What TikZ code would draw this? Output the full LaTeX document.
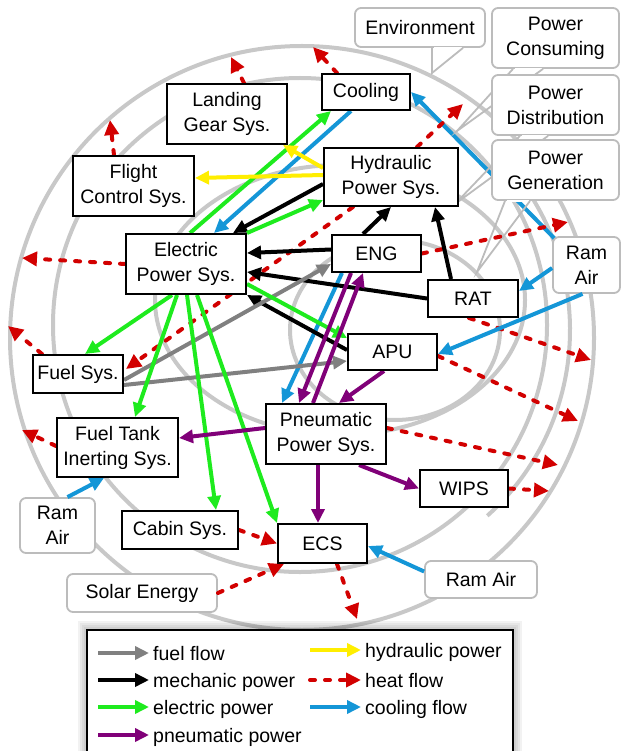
\documentclass[tikz,border=0pt]{standalone}
\usepackage{fontspec}
\setmainfont{Liberation Sans}
\usetikzlibrary{arrows.meta,calc}
\definecolor{cgreen}{RGB}{30,235,30}
\definecolor{cblue}{RGB}{20,150,215}
\definecolor{cpurple}{RGB}{128,0,120}
\definecolor{cyellow}{RGB}{255,238,0}
\definecolor{cred}{RGB}{210,0,0}
\definecolor{cgray}{RGB}{128,128,128}
\definecolor{cring}{RGB}{200,200,200}
\definecolor{cbox}{RGB}{188,188,188}
\newcommand{\diagfont}{\fontsize{19.5}{25}\selectfont}
\pgfdeclarelayer{ring}
\pgfdeclarelayer{lower}
\pgfdeclarelayer{call}
\pgfdeclarelayer{arr}
\pgfsetlayers{ring,lower,call,arr,main}
\begin{document}
\begin{tikzpicture}[x=1pt,y=-1pt,
  box/.style={draw=black, line width=2pt, fill=white, align=center, inner sep=0pt, font=\diagfont},
  call/.style={draw=cbox, line width=1.8pt, rounded corners=6pt, fill=white, align=center, inner sep=0pt, font=\diagfont},
  callline/.style={draw=cbox, line width=1.8pt, line join=miter},
  ring/.style={draw=cring, line width=4pt},
  fl/.style={line width=4pt, -{Triangle[length=14pt,width=13pt]}},
  fuelf/.style={fl, color=cgray},
  mech/.style={fl, color=black},
  elecf/.style={fl, color=cgreen},
  pneuf/.style={fl, color=cpurple},
  hydf/.style={fl, color=cyellow},
  coolf/.style={fl, color=cblue},
  heatf/.style={color=cred, line width=4pt, dash pattern=on 5pt off 10pt, line cap=round, -{Triangle[length=15pt,width=14pt]}},
  legtext/.style={anchor=base west, font=\diagfont, inner sep=0pt}
]
\useasboundingbox (0,0) rectangle (624,751);

% ---------- rings ----------
\begin{pgfonlayer}{ring}
\draw[ring] (302,338) circle[radius=292];
\draw[ring] (300,325) circle[radius=247];
\draw[ring] ($(320,330)+(-32:250)$) arc[start angle=-32, end angle=48, radius=250];
\draw[ring] (340,300) ellipse[x radius=185, y radius=135];
\draw[ring] (395,330) ellipse[x radius=105, y radius=90];
\end{pgfonlayer}

% ---------- system boxes ----------
\node[box, minimum width=88pt, minimum height=36pt] (cool) at (366,92) {Cooling};
\node[box, minimum width=120pt, minimum height=60pt] (lg) at (227,114) {Landing\\Gear Sys.};
\node[box, minimum width=134pt, minimum height=58pt] (hyd) at (391,177) {Hydraulic\\Power Sys.};
\node[box, minimum width=121pt, minimum height=60pt] (fc) at (133.5,186) {Flight\\Control Sys.};
\node[box, minimum width=120pt, minimum height=60pt] (elec) at (186,264) {Electric\\Power Sys.};
\node[box, minimum width=89pt, minimum height=37pt] (eng) at (376.5,253.5) {ENG};
\node[box, minimum width=90pt, minimum height=37pt] (rat) at (473,298.5) {RAT};
\node[box, minimum width=89pt, minimum height=36pt] (apu) at (392.5,352) {APU};
\node[box, minimum width=90pt, minimum height=38pt] (fuel) at (78,374) {Fuel Sys.};
\node[box, minimum width=120pt, minimum height=60pt] (pneu) at (326,434) {Pneumatic\\Power Sys.};
\node[box, minimum width=121pt, minimum height=59pt] (ftank) at (117.5,447.5) {Fuel Tank\\Inerting Sys.};
\node[box, minimum width=88pt, minimum height=37pt] (wips) at (464,488.5) {WIPS};
\node[box, minimum width=116pt, minimum height=38pt] (cabin) at (180,530) {Cabin Sys.};
\node[box, minimum width=89pt, minimum height=39pt] (ecs) at (322.5,543.5) {ECS};

% ---------- callouts ----------
\coordinate (envtip) at (432,73);
\coordinate (pctip) at (457,131);
\coordinate (pdtip) at (455,204);
\coordinate (pgtip) at (477,272);
\begin{pgfonlayer}{call}
\node[call, minimum width=130pt, minimum height=39pt] (env) at (420,27.5) {Environment};
\draw[white, line width=2.6pt] ($(env.south)+(13.5,0)$) -- ($(env.south)+(41.5,0)$);
\draw[callline] ($(env.south)+(12,0)$) -- (envtip) -- ($(env.south)+(43,0)$);
\node[call, minimum width=127pt, minimum height=60pt] (pc) at (555.5,38) {Power\\Consuming};
\draw[white, line width=2.6pt] ($(pc.south)+(-41,0)$) -- ($(pc.south)+(-14,0)$);
\draw[callline] ($(pc.south)+(-42.5,0)$) -- (pctip) -- ($(pc.south)+(-12.5,0)$);
\node[call, minimum width=127pt, minimum height=60pt] (pd) at (555.5,105) {Power\\Distribution};
\draw[white, line width=2.6pt] ($(pd.south)+(-34,0)$) -- ($(pd.south)+(-9,0)$);
\draw[callline] ($(pd.south)+(-35.5,0)$) -- (pdtip) -- ($(pd.south)+(-7.5,0)$);
\node[call, minimum width=127pt, minimum height=60pt] (pg) at (555.5,170) {Power\\Generation};
\draw[white, line width=2.6pt] ($(pg.south)+(-49,0)$) -- ($(pg.south)+(-27,0)$);
\draw[callline] ($(pg.south)+(-50.5,0)$) -- (pgtip) -- ($(pg.south)+(-25.5,0)$);
\node[call, minimum width=67pt, minimum height=56pt] (ramR) at (586.5,265) {Ram\\Air};
\node[call, minimum width=75pt, minimum height=55pt] (ramL) at (57.5,525.5) {Ram\\Air};
\node[call, minimum width=150pt, minimum height=38pt] (solar) at (142,593) {Solar Energy};
\node[call, minimum width=112pt, minimum height=37pt] (ramB) at (481,579.5) {Ram Air};
\end{pgfonlayer}

% ---------- flow under the callouts ----------
\begin{pgfonlayer}{lower}
\draw[coolf] ($(ramR.north west)+(4,4)$) -- (cool.east);
\end{pgfonlayer}

% ---------- free ends of heat flows ----------
\coordinate (h1) at (231,57);
\coordinate (h2) at (110,120);
\coordinate (h3) at (22,258);
\coordinate (h4) at (8,326);
\coordinate (h5) at (22,430);
\coordinate (h6) at (313,47);
\coordinate (h8) at (463,104);
\coordinate (h9) at (568,222);
\coordinate (h10) at (591,360);
\coordinate (h11) at (578,421);
\coordinate (h12) at (558,465);
\coordinate (h13) at (549,491);
\coordinate (h16) at (357,619);

\begin{pgfonlayer}{arr}
% heat flow
\draw[heatf] ($(lg.north west)+(78,0)$) -- (h1);
\draw[heatf] ($(fc.north west)+(42,0)$) -- (h2);
\draw[heatf] ($(elec.north west)+(0,31)$) -- (h3);
\draw[heatf] ($(fuel.north west)+(10,0)$) -- (h4);
\draw[heatf] ($(ftank.north west)+(0,29)$) -- (h5);
\draw[heatf] ($(cool.north west)+(16,0)$) -- (h6);
\draw[heatf] ($(hyd.south west)+(30,0)$) -- ($(fuel.north east)+(2,15)$);
\draw[heatf] ($(hyd.north)+(26,0)$) -- (h8);
\draw[heatf] (eng.east) -- (h9);
\draw[heatf] ($(rat.south west)+(42,0)$) -- (h10);
\draw[heatf] ($(apu.east)+(0,4)$) -- (h11);
\draw[heatf] ($(pneu.east)+(0,-6)$) -- (h12);
\draw[heatf] (wips.east) -- (h13);
\draw[heatf] (cabin.east) -- (ecs.west);
\draw[heatf] (solar.east) -- ($(ecs.south west)+(7,0)$);
\draw[heatf] ($(ecs.south)+(14.5,0)$) -- (h16);
% cooling flow
\draw[coolf] ($(cool.south west)+(30,0)$) -- ($(elec.north)+(28,0)$);
\draw[coolf] ($(ramR.west)+(0,3)$) -- ($(rat.north east)+(0,12)$);
\draw[coolf] ($(ramR.south)+(-4,0)$) -- ($(apu.east)+(0,2)$);
\draw[coolf] ($(ramL.north)+(10,0)$) -- ($(ftank.south)+(-13.5,0)$);
\draw[coolf] ($(ramB.west)+(0,-8)$) -- ($(ecs.east)+(0,2.5)$);
\draw[coolf] ($(eng.south west)+(11,0)$) -- ($(pneu.north west)+(17,0)$);
% mechanic power
\draw[mech] ($(hyd.west)+(0,7)$) -- ($(elec.north east)+(-14,0)$);
\draw[mech] ($(eng.west)+(0,-4)$) -- ($(elec.east)+(0,-11)$);
\draw[mech] ($(eng.north)+(-13.5,0)$) -- (hyd.south);
\draw[mech] ($(rat.north west)+(24,0)$) -- ($(hyd.south east)+(-24,0)$);
\draw[mech] (rat.west) -- ($(elec.east)+(0,8)$);
\draw[mech] ($(apu.west)+(0,-2)$) -- (elec.south east);
% fuel flow
\draw[fuelf] ($(fuel.east)+(0,6)$) -- ($(eng.west)+(0,10.5)$);
\draw[fuelf] ($(fuel.east)+(0,11)$) -- ($(apu.west)+(0,9)$);
% electric power
\draw[elecf] ($(elec.north)+(4,0)$) -- ($(cool.south west)+(10,0)$);
\draw[elecf] (elec.north east) -- ($(hyd.south west)+(0,-7)$);
\draw[elecf] ($(elec.east)+(0,20)$) -- ($(apu.north west)+(0,5)$);
\draw[elecf] ($(elec.south)+(-14,0)$) -- ($(fuel.north)+(7,0)$);
\draw[elecf] ($(elec.south)+(-9,0)$) -- ($(ftank.north)+(17.5,0)$);
\draw[elecf] ($(elec.south)+(1,0)$) -- ($(cabin.north)+(36,0)$);
\draw[elecf] ($(elec.south)+(11,0)$) -- (ecs.north west);
% hydraulic power
\draw[hydf] ($(hyd.west)+(0,-2)$) -- ($(fc.east)+(0,-8)$);
\draw[hydf] ($(hyd.west)+(0,-9)$) -- ($(lg.south east)+(-5,0)$);
% pneumatic power
\draw[pneuf] ($(eng.south west)+(20,0)$) -- ($(pneu.north west)+(34,0)$);
\draw[pneuf] ($(pneu.north west)+(48,0)$) -- ($(eng.south west)+(32,0)$);
\draw[pneuf] ($(apu.south west)+(37,0)$) -- ($(pneu.north west)+(74,0)$);
\draw[pneuf] ($(pneu.west)+(0,-6)$) -- ($(ftank.east)+(0,-9.5)$);
\draw[pneuf] ($(pneu.south east)+(-28,0)$) -- (wips.west);
\draw[pneuf] ($(pneu.south)+(-8,0)$) -- ($(ecs.north)+(-4.5,0)$);
\end{pgfonlayer}

% ---------- legend ----------
\node[draw=black, line width=1.5pt, fill=white, minimum width=426pt, minimum height=130pt, inner sep=0pt] (legend) at (300,695) {};
\begin{pgfonlayer}{call}
\foreach \s in {2,4,6,8}
  \fill[black, opacity=0.05] ($(legend.north west)+(-\s,-\s)$) rectangle ($(legend.south east)+(\s,\s)$);
\end{pgfonlayer}
\node[legtext] (t1) at (153,660) {fuel flow};
\node[legtext] (t2) at (153,687) {mechanic power};
\node[legtext] (t3) at (153,714) {electric power};
\node[legtext] (t4) at (153,742) {pneumatic power};
\node[legtext] (t5) at (365,657) {hydraulic power};
\node[legtext] (t6) at (365,687) {heat flow};
\node[legtext] (t7) at (365,714) {cooling flow};
\coordinate (l1) at (98,653);
\coordinate (l2) at (98,680);
\coordinate (l3) at (98,707);
\coordinate (l4) at (98,735);
\coordinate (l5) at (310,650);
\coordinate (l6) at (310,680);
\coordinate (l7) at (310,707);
\draw[fuelf] (l1) -- ($(t1.base west)+(-4,-7)$);
\draw[mech] (l2) -- ($(t2.base west)+(-4,-7)$);
\draw[elecf] (l3) -- ($(t3.base west)+(-4,-7)$);
\draw[pneuf] (l4) -- ($(t4.base west)+(-4,-7)$);
\draw[hydf] (l5) -- ($(t5.base west)+(-4,-7)$);
\draw[heatf] (l6) -- ($(t6.base west)+(-4,-7)$);
\draw[coolf] (l7) -- ($(t7.base west)+(-4,-7)$);
\end{tikzpicture}
\end{document}
